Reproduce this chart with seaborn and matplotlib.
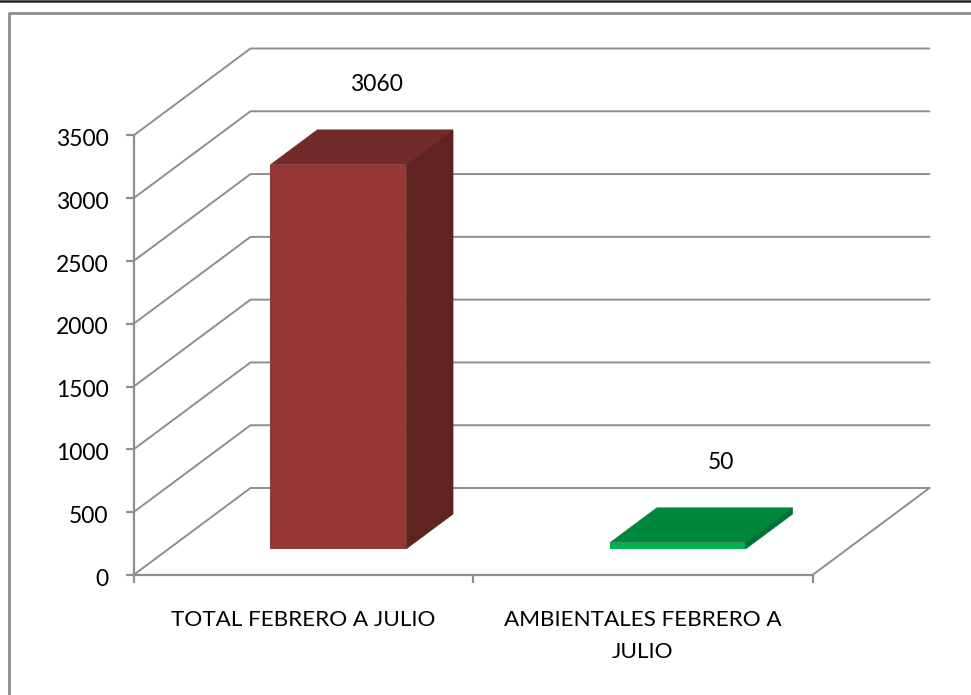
import matplotlib
matplotlib.use("Agg")
import matplotlib.pyplot as plt
from matplotlib.patches import Polygon
from matplotlib.lines import Line2D
from matplotlib.transforms import Affine2D
import pandas as pd
import seaborn as sns

categories = ["TOTAL FEBRERO A JULIO", "AMBIENTALES FEBRERO A\nJULIO"]
values = [3060, 50]
y_ticks = [0, 500, 1000, 1500, 2000, 2500, 3000, 3500]

front_colors = ["#953735", "#00B050"]
top_colors = ["#722B29", "#00873E"]
side_colors = ["#602321", "#007034"]
GRID = "#8E8E8E"

# pixel sizes of the fake 3d box
W, H = 971, 695
DEPTH_X, DEPTH_Y = 117, 87
BAR_START, BAR_END = 0.3, 0.7
BAR_WIDTH = 0.4
LABEL_DX = [73, 78]

sns.set_theme(style="white")
plt.rcParams["font.family"] = ["Lato", "DejaVu Sans"]

fig = plt.figure(figsize=(W / 100, H / 100), dpi=100)
ax = fig.add_axes([133.5 / W, 1 - 575 / H, (812.5 - 133.5) / W, (575 - 135.5) / H])

df = pd.DataFrame({"cat": categories, "val": values})
sns.barplot(data=df, x="cat", y="val", hue="cat", palette=front_colors, legend=False,
            width=BAR_WIDTH, saturation=1, ax=ax, zorder=5)
ax.set_xlim(-0.5, 1.5)
ax.set_ylim(0, 3500)
ax.set_xlabel("")
ax.set_ylabel("")


def shift(depth):
    return ax.transData + Affine2D().translate(DEPTH_X * depth, DEPTH_Y * depth)


# front faces sit part way into the box
for bar in ax.patches:
    bar.set_transform(shift(BAR_START))
    bar.set_clip_on(False)
    bar.set_linewidth(0)

# side and top faces of each bar
for i, val in enumerate(values):
    x0, x1 = i - BAR_WIDTH / 2, i + BAR_WIDTH / 2
    side = [(x1, 0), (x1, val)]
    top = [(x0, val), (x1, val)]
    side_pts = [shift(BAR_START).transform(p) for p in side] + [shift(BAR_END).transform(p) for p in side[::-1]]
    top_pts = [shift(BAR_START).transform(p) for p in top] + [shift(BAR_END).transform(p) for p in top[::-1]]
    fig.add_artist(Polygon(top_pts, closed=True, transform=None, fc=top_colors[i], ec=top_colors[i], lw=0.4, zorder=6))
    fig.add_artist(Polygon(side_pts, closed=True, transform=None, fc=side_colors[i], ec=side_colors[i], lw=0.4, zorder=6))
    ax.annotate(str(val), xy=(i, val), xytext=(LABEL_DX[i] / 100 * 72, 106 / 100 * 72), textcoords="offset points",
                ha="center", va="center", fontsize=16.5, color="black", annotation_clip=False, zorder=7)

# wall gridlines and floor, behind the axes
for t in y_ticks:
    p0 = shift(0).transform((-0.5, t))
    p1 = shift(1).transform((-0.5, t))
    p2 = shift(1).transform((1.5, t))
    fig.add_artist(Line2D([p0[0], p1[0], p2[0]], [p0[1], p1[1], p2[1]], transform=None, color=GRID, lw=1.4, zorder=-1))
p0 = shift(0).transform((1.5, 0))
p1 = shift(1).transform((1.5, 0))
fig.add_artist(Line2D([p0[0], p1[0]], [p0[1], p1[1]], transform=None, color=GRID, lw=1.4, zorder=-1))

# axes lines and ticks
for s in ["top", "right"]:
    ax.spines[s].set_visible(False)
for s in ["left", "bottom"]:
    ax.spines[s].set_color(GRID)
    ax.spines[s].set_linewidth(1.6)
ax.patch.set_alpha(0)
ax.set_yticks(y_ticks)
ax.set_xticks([-0.5, 0.5, 1.5], minor=True)
ax.tick_params(axis="x", which="major", length=0, pad=25.5, labelsize=16.2, labelcolor="black")
ax.tick_params(axis="x", which="minor", length=6, width=1.6, color=GRID, bottom=True)
ax.tick_params(axis="y", length=6, width=1.6, color=GRID, left=True, pad=12, labelsize=16.5, labelcolor="black")
ax.set_xticks([0, 1])
ax.set_xticklabels(categories, linespacing=1.7)
for label in ax.get_yticklabels():
    label.set_transform(label.get_transform() + Affine2D().translate(0, -2))

# outer chart frame
fig.add_artist(Line2D([0, 1], [1 - 0.8 / H] * 2, color="#222222", lw=1.8))
fig.add_artist(Line2D([8.5 / W, 8.5 / W, 1], [0, 1 - 12.5 / H, 1 - 12.5 / H], color="#8C8C8C", lw=2))

fig.savefig("out.png", dpi=100)
